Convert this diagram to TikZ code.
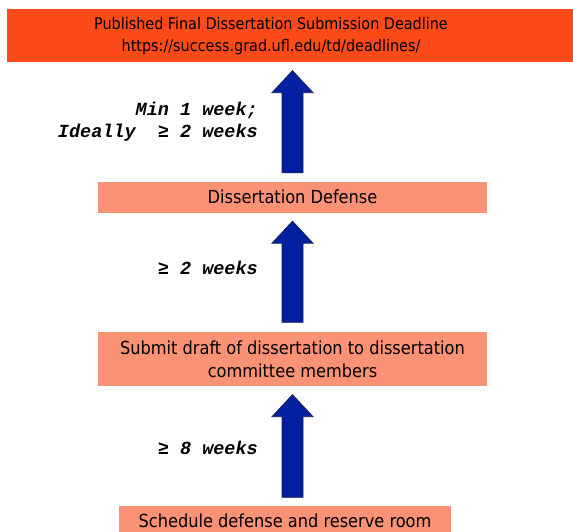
\documentclass[tikz,border=0pt]{standalone}
\usepackage{fontspec}
\setmainfont{DejaVu Sans Condensed}
\newfontfamily\waitfont{Liberation Mono}
\usetikzlibrary{positioning, calc}

\definecolor{deadlinefill}{RGB}{252,74,24}
\definecolor{stepfill}{RGB}{251,146,117}
\definecolor{arrowblue}{RGB}{0,32,160}
\definecolor{arrowline}{RGB}{20,30,90}

\tikzset{
  stepbox/.style={fill=stepfill, align=center, inner sep=0pt, font=\fontsize{18}{23}\selectfont},
  deadlinebox/.style={fill=deadlinefill, inner sep=0pt},
  boxtext/.style={align=center, inner sep=0pt, font=\fontsize{16}{22.5}\selectfont},
  waitlabel/.style={align=right, inner sep=0pt, anchor=east, font=\waitfont\bfseries\itshape\fontsize{18.5}{22}\selectfont},
  bigarrow/.style={fill=arrowblue, draw=arrowline, line width=0.8pt}
}

% upward block arrow from #1 (bottom) to #2 (tip)
\newcommand{\blockup}[2]{%
  \path[bigarrow] let \p1=(#1), \p2=(#2) in
    (\x1-10.5pt,\y1) -- (\x1-10.5pt,\y2-22pt) -- (\x1-20.5pt,\y2-22pt) -- (\x1,\y2)
    -- (\x1+20.5pt,\y2-22pt) -- (\x1+10.5pt,\y2-22pt) -- (\x1+10.5pt,\y1) -- cycle;}

\begin{document}
\begin{tikzpicture}[x=1pt, y=-1pt]
  \useasboundingbox (0,0) rectangle (573,531);
  \clip (0,0) rectangle (573,531);

  % boxes
  \node[deadlinebox, minimum width=573pt, minimum height=53pt] (deadline) at (293.5,35.5) {};
  \node[boxtext] (deadlinetext) at (271,36) {Published Final Dissertation Submission Deadline\\https://success.grad.ufl.edu/td/deadlines/};
  \node[stepbox, minimum width=389pt, minimum height=31pt] (defense) at (292.5,197) {Dissertation Defense};
  \node[stepbox, minimum width=389pt, minimum height=54pt] (submit) at (292.5,359) {Submit draft of dissertation to dissertation\\committee members};
  \node[stepbox, minimum width=332pt, minimum height=29pt] (schedule) at (285,520.5) {Schedule defense and reserve room};

  % arrows
  \coordinate (schedtop) at (submit.south |- schedule.north);
  \blockup{[yshift=8.5pt]defense.north}{[yshift=-8.5pt]deadline.south}
  \blockup{[yshift=9.5pt]submit.north}{[yshift=-8.5pt]defense.south}
  \blockup{[yshift=8.5pt]schedtop}{[yshift=-8.5pt]submit.south}

  % waiting times
  \node[waitlabel] (waitfinal) at (258,122) {Min 1 week;\\Ideally\ \ ≥ 2 weeks};
  \node[waitlabel] (waitdefense) at (258,268) {≥ 2 weeks};
  \node[waitlabel] (waitdraft) at (258,448) {≥ 8 weeks};
\end{tikzpicture}
\end{document}
